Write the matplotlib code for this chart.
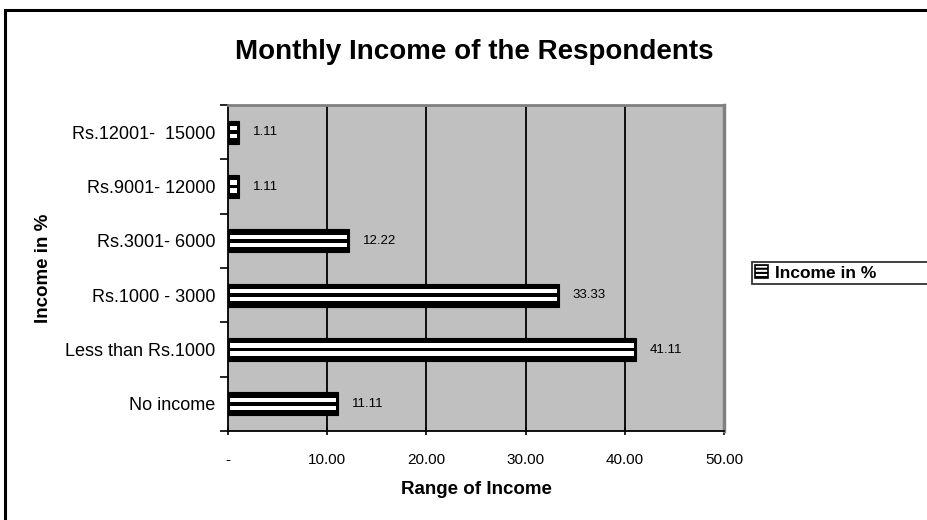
import matplotlib.pyplot as plt
import matplotlib.patches as mpatches
import numpy as np

plt.rcParams['font.family'] = ['Liberation Sans', 'DejaVu Sans']
plt.rcParams['hatch.linewidth'] = 1.5

# income groups, bottom to top
groups = ['No income', 'Less than Rs.1000', 'Rs.1000 - 3000',
          'Rs.3001- 6000', 'Rs.9001- 12000', 'Rs.12001-  15000']
pct = [11.11, 41.11, 33.33, 12.22, 1.11, 1.11]
xticks = [0, 10, 20, 30, 40, 50]
xtick_labels = ['-', '10.00', '20.00', '30.00', '40.00', '50.00']

W, H = 928, 520
fig = plt.figure(figsize=(W / 100, H / 100), dpi=100)
fig.patch.set_facecolor('white')

# chart frame (runs off the right and bottom of the canvas)
fig.add_artist(mpatches.Rectangle((5 / W, -0.2), 1.2, 1.2 - 10 / H,
                                  transform=fig.transFigure, fill=False,
                                  edgecolor='black', lw=2.2, zorder=0))

ax = fig.add_axes([228 / W, 1 - 431 / H, (724 - 228) / W, (431 - 105) / H])
ax.set_facecolor('#c0c0c0')

y = np.arange(len(groups))
h = 0.42
ins = 0.2
vals = np.array(pct)

# striped bars: black body with two white stripes
ax.barh(y, vals, height=h, color='black', edgecolor='black', lw=0.8, zorder=3)
for off in (-0.075, 0.075):
    ax.barh(y + off, vals - 2 * ins, left=ins, height=0.08, color='white',
            lw=0, zorder=4)

for yi, v in zip(y, pct):
    ax.annotate(f'{v:.2f}', (v, yi), xytext=(10, 0), textcoords='offset points',
                va='center', ha='left', fontsize=9.5, zorder=5)

ax.set_xlim(0, 50)
ax.set_ylim(-0.5, len(groups) - 0.5)
ax.set_xticks(xticks)
ax.set_xticklabels(xtick_labels, fontsize=11)
ax.set_yticks(y)
ax.set_yticklabels(groups, fontsize=13)
ax.set_yticks(np.arange(-0.5, len(groups), 1), minor=True)
ax.tick_params(axis='y', which='major', length=0, pad=9)
ax.tick_params(axis='y', which='minor', length=6, width=1.2, direction='out')
ax.tick_params(axis='x', length=6, width=1.2, direction='inout', pad=13)

for xv in xticks[1:-1]:
    ax.axvline(xv, color='black', lw=1.3, zorder=1)

ax.spines['left'].set_color('black')
ax.spines['bottom'].set_color('black')
ax.spines['left'].set_linewidth(1.3)
ax.spines['bottom'].set_linewidth(1.3)
ax.spines['top'].set_color('#808080')
ax.spines['right'].set_color('#808080')
ax.spines['top'].set_linewidth(2)
ax.spines['right'].set_linewidth(2.5)

ax.set_xlabel('Range of Income', fontsize=13.5, fontweight='bold', labelpad=10)
fig.text(43 / W, 1 - 268 / H, 'Income in %', rotation=90, ha='center',
         va='center', fontsize=13.5, fontweight='bold')
fig.text(474 / W, 1 - 52 / H, 'Monthly Income of the Respondents',
         ha='center', va='center', fontsize=20, fontweight='bold')

handle = mpatches.Patch(facecolor='white', edgecolor='black', hatch='----',
                        lw=1.2)
leg = fig.legend([handle], ['Income in %'], loc='upper left',
                 bbox_to_anchor=(752 / W, 1 - 285 / H, 0.25, 23 / H),
                 mode='expand', frameon=True, borderaxespad=0,
                 fancybox=False, borderpad=0.2, handlelength=0.7,
                 handleheight=0.7, handletextpad=0.4,
                 prop={'weight': 'bold', 'size': 12.5})
leg.get_frame().set_edgecolor('black')
leg.get_frame().set_linewidth(1.3)

fig.savefig('out.png', dpi=100)
